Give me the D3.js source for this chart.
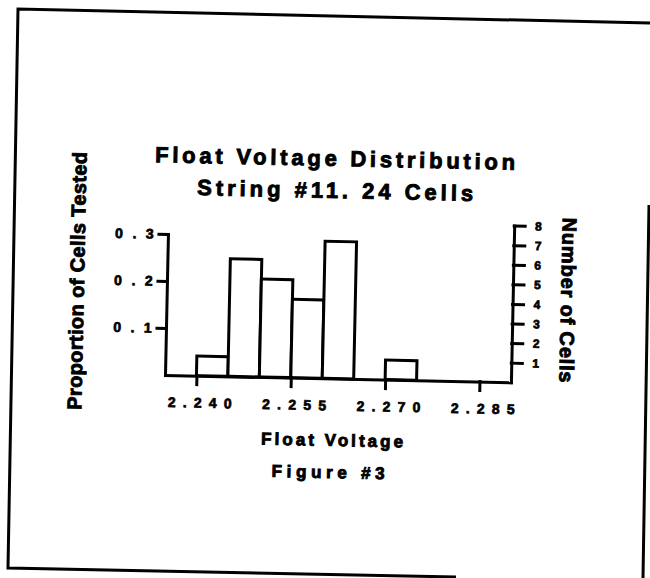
<!DOCTYPE html>
<html>
<head>
<meta charset="utf-8">
<script src="https://cdn.jsdelivr.net/npm/d3@7"></script>
<style>
  body { margin: 0; background: #fff; }
  svg text { font-family: "Liberation Sans", Arial, Helvetica, sans-serif; font-weight: bold; fill: #000; }
</style>
</head>
<body>
<div id="chart"></div>
<script>
// histogram data
var binStarts = [2.240, 2.245, 2.250, 2.255, 2.260, 2.270];
var cellCounts = [1, 6, 5, 4, 7, 1];
var totalCells = 24;
var binWidth = 0.005;
var voltTicks = [2.240, 2.255, 2.270, 2.285];
var propTicks = [0.1, 0.2, 0.3];
var countTicks = [1, 2, 3, 4, 5, 6, 7, 8];

var W = 650, H = 578, tilt = 1.2;  // scanned page is a little crooked

var svg = d3.select("#chart")
    .append("svg")
        .attr("width", W)
        .attr("height", H);

svg.append("rect").attr("width", W).attr("height", H).attr("fill", "#fff");

// page frame
svg.append("path")
    .attr("d", "M650,23 L18,9 L8,568 L456,577 M649,205 L643,578")
    .attr("fill", "none")
    .attr("stroke", "#000")
    .attr("stroke-width", 3);

var plot = svg.append("g")
    .attr("transform", "rotate(" + tilt + ",166,375)");

var x = d3.scaleLinear()
        .domain([2.235, 2.290])
        .range([165, 511]);

var yProp = d3.scaleLinear()
        .domain([0, 0.3])
        .range([375, 234]);

var yCount = d3.scaleLinear()
        .domain([0, 8])
        .range([yProp(0), yProp(8 / totalCells)]);

var bins = binStarts.map(function(d, i) {
    return {x0: d, x1: d + binWidth, p: cellCounts[i] / totalCells};
});

plot.selectAll(".bar")
    .data(bins)
    .enter().append("rect")
        .attr("class", "bar")
        .attr("x", function(d) { return x(d.x0) })
        .attr("width", function(d) { return x(d.x1) - x(d.x0) })
        .attr("y", function(d) { return yProp(d.p) })
        .attr("height", function(d) { return yProp(0) - yProp(d.p) })
        .attr("fill", "#fff")
        .attr("stroke", "#000")
        .attr("stroke-width", 3);

var xAxis = plot.append("g")
    .attr("transform", "translate(0," + yProp(0) + ")")
    .call(d3.axisBottom(x).tickValues(voltTicks).tickSize(9).tickSizeOuter(0)
        .tickPadding(13).tickFormat(d3.format(".3f")));

var leftAxis = plot.append("g")
    .attr("transform", "translate(" + x.range()[0] + ",0)")
    .call(d3.axisLeft(yProp).tickValues(propTicks).tickSize(9).tickSizeOuter(0)
        .tickFormat(d3.format(".1f")));

var rightAxis = plot.append("g")
    .attr("transform", "translate(" + x.range()[1] + ",0)")
    .call(d3.axisRight(yCount).tickValues(countTicks).tickSize(11).tickSizeOuter(0)
        .tickPadding(10));

plot.selectAll(".domain, .tick line")
    .attr("stroke", "#000")
    .attr("stroke-width", 3)
    .attr("stroke-linecap", "square");

plot.selectAll(".tick text")
    .attr("stroke", "#000")
    .attr("stroke-width", 0.7);

xAxis.selectAll("text")
    .attr("font-size", 14)
    .attr("letter-spacing", 7.2)
    .attr("dx", 7);

leftAxis.selectAll("text")
    .attr("font-size", 14)
    .attr("letter-spacing", 9.5)
    .attr("x", -4.8);

rightAxis.selectAll("text")
    .attr("font-size", 12);

// titles and axis names, each tilted with the page
function label(txt, cx, cy, size, len, rot) {
    svg.append("text")
        .attr("transform", "translate(" + cx + "," + cy + ") rotate(" + (tilt + rot) + ")")
        .attr("text-anchor", "middle")
        .attr("font-size", size)
        .attr("textLength", len)
        .attr("lengthAdjust", "spacing")
        .attr("stroke", "#000")
        .attr("stroke-width", 0.9)
        .text(txt);
}

label("Float Voltage Distribution", 335, 166, 22, 360, 0);
label("String #11. 24 Cells", 335, 198, 22, 276, 0);
label("Float Voltage", 332, 446, 17, 142, 0);
label("Figure #3", 328, 478, 17, 113, 0);
label("Proportion of Cells Tested", 84, 281, 20, 258, -90);
label("Number of Cells", 561, 300, 20, 165, 90);
</script>
</body>
</html>
